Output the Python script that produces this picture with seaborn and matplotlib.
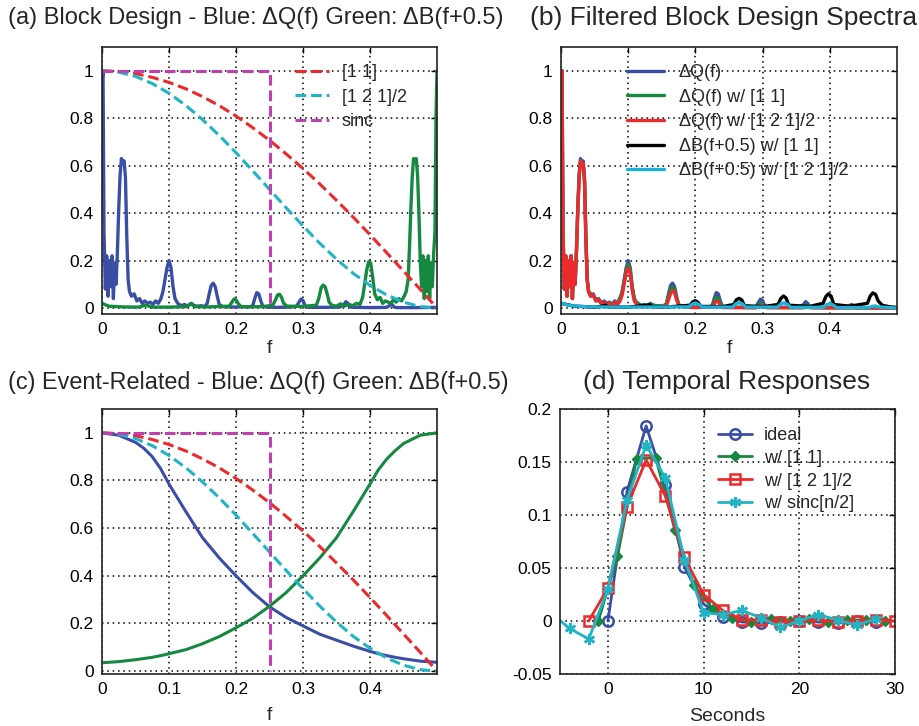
import matplotlib
matplotlib.use("Agg")
import matplotlib.pyplot as plt
import seaborn as sns

# ---- filter responses (shared by panels a and c) ----
filt_f = [0.0, 0.025, 0.05, 0.075, 0.1, 0.125, 0.15, 0.175, 0.2, 0.225, 0.25,
          0.275, 0.3, 0.325, 0.35, 0.375, 0.4, 0.425, 0.45, 0.475, 0.5]
h11 = [1.0, 0.997, 0.988, 0.972, 0.951, 0.924, 0.891, 0.853, 0.809, 0.760, 0.707,
       0.649, 0.588, 0.523, 0.454, 0.383, 0.309, 0.233, 0.156, 0.079, 0.0]
h121 = [1.0, 0.994, 0.976, 0.946, 0.905, 0.854, 0.794, 0.727, 0.655, 0.578, 0.5,
        0.422, 0.346, 0.273, 0.206, 0.146, 0.096, 0.055, 0.025, 0.006, 0.0]
sinc_f = [0.0, 0.25, 0.25]
sinc_v = [1.0, 1.0, 0.0]

# ---- (a) block design spectra ----
dq_f = [0.000, 0.0015, 0.003, 0.005, 0.007, 0.009, 0.011, 0.013, 0.015, 0.017,
        0.019, 0.021, 0.023, 0.025, 0.027, 0.029, 0.031, 0.033, 0.035, 0.037,
        0.039, 0.041, 0.044, 0.048, 0.052, 0.056, 0.060, 0.064, 0.068, 0.072,
        0.076, 0.080, 0.084, 0.088, 0.091, 0.094, 0.097, 0.100, 0.103, 0.106,
        0.109, 0.113, 0.118, 0.123, 0.128, 0.133, 0.138, 0.143, 0.148, 0.153,
        0.157, 0.160, 0.163, 0.166, 0.169, 0.172, 0.175, 0.180, 0.190, 0.200,
        0.210, 0.220, 0.225, 0.228, 0.231, 0.234, 0.237, 0.240, 0.245, 0.260,
        0.280, 0.290, 0.294, 0.297, 0.300, 0.303, 0.306, 0.310, 0.330, 0.355,
        0.361, 0.364, 0.367, 0.370, 0.373, 0.380, 0.400, 0.425, 0.430, 0.433,
        0.436, 0.440, 0.470, 0.500]
dq_v = [0.95, 1.00, 0.32, 0.08, 0.22, 0.05, 0.20, 0.09, 0.22, 0.04,
        0.19, 0.10, 0.24, 0.42, 0.56, 0.63, 0.61, 0.62, 0.55, 0.30,
        0.12, 0.07, 0.05, 0.06, 0.03, 0.04, 0.02, 0.03, 0.02, 0.025,
        0.015, 0.03, 0.02, 0.04, 0.07, 0.12, 0.17, 0.20, 0.17, 0.09,
        0.04, 0.02, 0.01, 0.015, 0.008, 0.02, 0.01, 0.008, 0.01, 0.006,
        0.02, 0.06, 0.095, 0.105, 0.09, 0.05, 0.015, 0.006, 0.005, 0.004,
        0.006, 0.005, 0.01, 0.04, 0.065, 0.06, 0.03, 0.008, 0.004, 0.003,
        0.004, 0.006, 0.025, 0.038, 0.032, 0.01, 0.004, 0.003, 0.003, 0.004,
        0.015, 0.027, 0.02, 0.006, 0.003, 0.003, 0.002, 0.003, 0.012, 0.015,
        0.004, 0.002, 0.002, 0.003]

db_f = [0.000, 0.010, 0.030, 0.055, 0.062, 0.066, 0.070, 0.075, 0.100, 0.126,
        0.130, 0.134, 0.138, 0.160, 0.190, 0.194, 0.197, 0.200, 0.203, 0.207,
        0.215, 0.240, 0.255, 0.259, 0.262, 0.265, 0.268, 0.271, 0.276, 0.300,
        0.320, 0.324, 0.327, 0.330, 0.333, 0.336, 0.339, 0.343, 0.350, 0.356,
        0.362, 0.368, 0.374, 0.380, 0.385, 0.389, 0.392, 0.395, 0.398, 0.401,
        0.404, 0.407, 0.411, 0.415, 0.419, 0.423, 0.427, 0.431, 0.435, 0.439,
        0.443, 0.447, 0.451, 0.454, 0.457, 0.459, 0.461, 0.463, 0.465, 0.467,
        0.469, 0.471, 0.473, 0.475, 0.477, 0.479, 0.481, 0.483, 0.485, 0.487,
        0.489, 0.491, 0.493, 0.495, 0.497, 0.4985, 0.500]
db_v = [0.02, 0.008, 0.005, 0.004, 0.010, 0.013, 0.008, 0.004, 0.004, 0.006,
        0.014, 0.016, 0.006, 0.005, 0.008, 0.025, 0.038, 0.035, 0.02, 0.007,
        0.005, 0.006, 0.012, 0.035, 0.055, 0.058, 0.045, 0.02, 0.008, 0.007,
        0.012, 0.045, 0.085, 0.097, 0.09, 0.06, 0.025, 0.012, 0.008, 0.018,
        0.008, 0.016, 0.01, 0.02, 0.015, 0.045, 0.10, 0.16, 0.195, 0.19,
        0.13, 0.06, 0.035, 0.045, 0.02, 0.03, 0.025, 0.02, 0.035, 0.025,
        0.04, 0.03, 0.05, 0.07, 0.12, 0.26, 0.42, 0.55, 0.63, 0.62,
        0.63, 0.56, 0.40, 0.20, 0.09, 0.22, 0.04, 0.20, 0.07, 0.22,
        0.04, 0.19, 0.09, 0.23, 0.32, 0.80, 1.00]

# ---- (b) filtered spectra ----
q11_f = [0.000, 0.0015, 0.003, 0.005, 0.007, 0.009, 0.011, 0.013, 0.015, 0.017,
         0.019, 0.021, 0.023, 0.025, 0.027, 0.029, 0.031, 0.033, 0.035, 0.037,
         0.039, 0.041, 0.048, 0.060, 0.072, 0.084, 0.091, 0.094, 0.097, 0.100,
         0.103, 0.106, 0.110, 0.120, 0.133, 0.150, 0.157, 0.160, 0.163, 0.166,
         0.169, 0.172, 0.176, 0.200, 0.225, 0.228, 0.231, 0.234, 0.237, 0.241,
         0.290, 0.294, 0.297, 0.300, 0.303, 0.307, 0.358, 0.362, 0.366, 0.370,
         0.375, 0.430, 0.433, 0.437, 0.500]
q11_v = [0.95, 1.00, 0.32, 0.08, 0.22, 0.05, 0.20, 0.09, 0.22, 0.04,
         0.19, 0.10, 0.24, 0.42, 0.56, 0.62, 0.60, 0.61, 0.54, 0.30,
         0.12, 0.07, 0.05, 0.02, 0.02, 0.02, 0.065, 0.11, 0.16, 0.185,
         0.16, 0.085, 0.03, 0.01, 0.015, 0.006, 0.018, 0.05, 0.08, 0.09,
         0.075, 0.04, 0.01, 0.003, 0.007, 0.028, 0.046, 0.042, 0.02, 0.004,
         0.002, 0.013, 0.022, 0.018, 0.005, 0.002, 0.002, 0.008, 0.013, 0.008,
         0.002, 0.001, 0.004, 0.001, 0.0]

q121_f = [0.000, 0.0015, 0.003, 0.005, 0.007, 0.009, 0.011, 0.013, 0.015, 0.017,
          0.019, 0.021, 0.023, 0.025, 0.027, 0.029, 0.031, 0.033, 0.035, 0.037,
          0.039, 0.041, 0.044, 0.048, 0.052, 0.056, 0.060, 0.064, 0.068, 0.072,
          0.076, 0.080, 0.084, 0.088, 0.091, 0.094, 0.097, 0.100, 0.103, 0.106,
          0.109, 0.113, 0.118, 0.123, 0.128, 0.133, 0.138, 0.143, 0.150, 0.157,
          0.160, 0.163, 0.166, 0.169, 0.172, 0.176, 0.200, 0.225, 0.228, 0.231,
          0.234, 0.237, 0.241, 0.290, 0.295, 0.300, 0.305, 0.360, 0.366, 0.372,
          0.500]
q121_v = [0.95, 1.00, 0.32, 0.08, 0.22, 0.05, 0.20, 0.09, 0.22, 0.04,
          0.19, 0.10, 0.24, 0.41, 0.55, 0.62, 0.60, 0.61, 0.53, 0.29,
          0.12, 0.07, 0.05, 0.055, 0.03, 0.035, 0.02, 0.025, 0.015, 0.02,
          0.012, 0.025, 0.015, 0.03, 0.055, 0.10, 0.15, 0.17, 0.145, 0.075,
          0.03, 0.015, 0.007, 0.01, 0.005, 0.012, 0.006, 0.004, 0.003, 0.012,
          0.035, 0.06, 0.075, 0.065, 0.035, 0.008, 0.002, 0.004, 0.016, 0.03,
          0.027, 0.012, 0.002, 0.001, 0.008, 0.013, 0.002, 0.001, 0.004, 0.001,
          0.0]

b11_f = [0.000, 0.020, 0.050, 0.062, 0.066, 0.070, 0.100, 0.128, 0.132, 0.136,
         0.160, 0.192, 0.196, 0.200, 0.204, 0.208, 0.240, 0.257, 0.261, 0.265,
         0.269, 0.273, 0.300, 0.323, 0.327, 0.331, 0.335, 0.339, 0.370, 0.390,
         0.394, 0.398, 0.402, 0.406, 0.430, 0.456, 0.460, 0.464, 0.468, 0.472,
         0.478, 0.490, 0.500]
b11_v = [0.02, 0.008, 0.004, 0.008, 0.012, 0.005, 0.004, 0.012, 0.014, 0.006,
         0.005, 0.012, 0.026, 0.031, 0.024, 0.007, 0.006, 0.015, 0.035, 0.041,
         0.034, 0.01, 0.006, 0.015, 0.04, 0.051, 0.042, 0.012, 0.007, 0.02,
         0.048, 0.06, 0.05, 0.015, 0.008, 0.02, 0.05, 0.064, 0.058, 0.03,
         0.012, 0.005, 0.002]

b121_f = [0.000, 0.015, 0.040, 0.100, 0.190, 0.195, 0.200, 0.205, 0.210, 0.255,
          0.260, 0.265, 0.270, 0.275, 0.322, 0.327, 0.332, 0.337, 0.342, 0.390,
          0.395, 0.400, 0.405, 0.410, 0.458, 0.463, 0.467, 0.472, 0.500]
b121_v = [0.02, 0.01, 0.005, 0.004, 0.005, 0.016, 0.022, 0.015, 0.004, 0.004,
          0.018, 0.023, 0.017, 0.004, 0.004, 0.017, 0.022, 0.016, 0.003, 0.003,
          0.014, 0.018, 0.013, 0.002, 0.002, 0.007, 0.009, 0.005, 0.0]

# ---- (c) event-related spectra ----
ev_f = [0.0, 0.025, 0.05, 0.0625, 0.075, 0.0875, 0.1, 0.125, 0.15, 0.175, 0.2,
        0.225, 0.25, 0.275, 0.3, 0.325, 0.35, 0.375, 0.4, 0.4125, 0.425, 0.4375,
        0.45, 0.475, 0.5]
evq_v = [1.0, 0.99, 0.96, 0.935, 0.90, 0.85, 0.785, 0.67, 0.56, 0.475, 0.40,
         0.33, 0.27, 0.225, 0.19, 0.155, 0.13, 0.105, 0.083, 0.073, 0.065, 0.058,
         0.052, 0.042, 0.037]
evb_v = [0.035, 0.04, 0.048, 0.053, 0.058, 0.065, 0.073, 0.09, 0.115, 0.145, 0.182,
         0.222, 0.272, 0.33, 0.40, 0.475, 0.56, 0.67, 0.785, 0.845, 0.89, 0.925,
         0.955, 0.99, 1.0]

# ---- (d) temporal responses ----
ideal_t = [0, 2, 4, 6, 8, 10, 12, 14, 16, 18, 20, 22, 24, 26, 28]
ideal_v = [0.0, 0.122, 0.184, 0.128, 0.051, 0.016, 0.004, -0.001, -0.002, -0.001,
           0.0, -0.001, -0.002, 0.0, -0.001]
w11_t = [-1, 1, 3, 5, 7, 9, 11, 13, 15, 17, 19, 21, 23, 25, 27, 29]
w11_v = [0.0, 0.061, 0.153, 0.154, 0.086, 0.034, 0.011, 0.003, -0.001, 0.002,
         0.0, 0.002, -0.001, 0.001, 0.001, 0.0]
w121_t = [-2, 0, 2, 4, 6, 8, 10, 12, 14, 16, 18, 20, 22, 24, 26, 28, 30]
w121_v = [0.0, 0.031, 0.108, 0.152, 0.118, 0.060, 0.025, 0.010, 0.001, 0.001,
          -0.001, 0.0, 0.001, -0.001, 0.0, 0.001, 0.0]
wsinc_t = [-6, -4, -2, 0, 2, 4, 6, 8, 10, 12, 14, 16, 18, 20, 22, 24, 26, 28]
wsinc_v = [0.008, -0.007, -0.017, 0.030, 0.114, 0.166, 0.135, 0.058, 0.008, 0.006,
           0.010, 0.003, -0.006, 0.0, 0.006, 0.001, -0.004, 0.002]

BLUE = "#3b4ea6"
GREEN = "#15893f"
RED = "#ec2a2c"
CYAN = "#20b4c4"
CYAN2 = "#1ab2d8"
MAGENTA = "#c040b0"

sns.set_theme(style="white")
plt.rcParams["font.family"] = ["Liberation Sans", "DejaVu Sans"]

W, H = 919, 726
fig = plt.figure(figsize=(W / 100, H / 100), dpi=100)


def add_ax(left, top, right, bottom):
    return fig.add_axes([left / W, 1 - bottom / H, (right - left) / W, (bottom - top) / H])


def line(ax, x, y, color, lw=2.2, ls="-", label=None, **kw):
    sns.lineplot(x=x, y=y, ax=ax, color=color, linewidth=lw, linestyle=ls,
                 sort=False, estimator=None, label=label, **kw)


def style(ax):
    ax.grid(True, color="black", linestyle=(0, (1, 2.5)), linewidth=1.1)
    ax.tick_params(direction="in", top=True, right=True, length=4, width=1,
                   labelsize=12.5, colors="black", pad=6)
    for s in ax.spines.values():
        s.set_color("#222222")
        s.set_linewidth(1.2)


def legend(ax, x, y, hl, tp, sp=0.42):
    h, l = ax.get_legend_handles_labels()
    ax.legend(h, l, frameon=False, loc="upper left", bbox_to_anchor=(x, y),
              fontsize=13, handlelength=hl, handletextpad=tp, labelspacing=sp,
              borderaxespad=0, borderpad=0)


dash = (0, (3.5, 1.6))
freq_ticks = [0, 0.1, 0.2, 0.3, 0.4]
freq_labels = ["0", "0.1", "0.2", "0.3", "0.4"]
amp_ticks = [0, 0.2, 0.4, 0.6, 0.8, 1.0]
amp_labels = ["0", "0.2", "0.4", "0.6", "0.8", "1"]

# (a)
ax = add_ax(102, 47, 437, 314)
line(ax, dq_f, dq_v, BLUE, lw=2.4)
line(ax, db_f, db_v, GREEN, lw=2.4)
line(ax, filt_f, h11, RED, ls=dash, label="[1 1]")
line(ax, filt_f, h121, CYAN, ls=dash, label="[1 2 1]/2")
line(ax, sinc_f, sinc_v, MAGENTA, ls=dash, label="sinc")
legend(ax, 0.575, 0.936, 1.9, 0.7)

# (b)
bx = add_ax(561, 47, 897, 314)
line(bx, dq_f, dq_v, BLUE, lw=2.4, label="ΔQ(f)")
line(bx, q11_f, q11_v, GREEN, lw=2.4, label="ΔQ(f) w/ [1 1]")
line(bx, q121_f, q121_v, RED, lw=2.4, label="ΔQ(f) w/ [1 2 1]/2")
line(bx, b11_f, b11_v, "black", lw=2.4, label="ΔB(f+0.5) w/ [1 1]")
line(bx, b121_f, b121_v, CYAN2, lw=2.4, label="ΔB(f+0.5) w/ [1 2 1]/2")
legend(bx, 0.195, 0.936, 2.1, 0.8)

# (c)
cx = add_ax(102, 409, 437, 674)
line(cx, ev_f, evq_v, BLUE)
line(cx, ev_f, evb_v, GREEN)
line(cx, filt_f, h11, RED, ls=dash)
line(cx, filt_f, h121, CYAN, ls=dash)
line(cx, sinc_f, sinc_v, MAGENTA, ls=dash)
if cx.get_legend() is not None:
    cx.get_legend().remove()

for a, ylo, lp in ((ax, -0.025, 2), (bx, -0.025, 2), (cx, -0.012, 7)):
    a.set_xlim(0, 0.5)
    a.set_ylim(ylo, 1.1)
    a.set_xticks(freq_ticks)
    a.set_xticklabels(freq_labels)
    a.set_yticks(amp_ticks)
    a.set_yticklabels(amp_labels)
    a.set_xlabel("f", fontsize=14, labelpad=lp)
    a.set_ylabel("")
    style(a)

# (d)
dx = add_ax(560, 409, 895, 674)
line(dx, ideal_t, ideal_v, BLUE, lw=2.0, label="ideal", marker="o",
     markersize=7.5, markerfacecolor="none", markeredgecolor=BLUE, markeredgewidth=1.8)
line(dx, w11_t, w11_v, GREEN, lw=2.0, label="w/ [1 1]", marker="D",
     markersize=5, markerfacecolor=GREEN, markeredgecolor=GREEN, markeredgewidth=1)
line(dx, w121_t, w121_v, RED, lw=2.0, label="w/ [1 2 1]/2", marker="s",
     markersize=7.5, markerfacecolor="none", markeredgecolor=RED, markeredgewidth=1.8)
line(dx, wsinc_t, wsinc_v, CYAN, lw=2.0, label="w/ sinc[n/2]", marker=(6, 2, 0),
     markersize=8, markeredgecolor=CYAN, markeredgewidth=1.8)
legend(dx, 0.472, 0.932, 1.9, 0.65, sp=0.32)
dx.set_xlim(-5, 30)
dx.set_ylim(-0.05, 0.2)
dx.set_xticks([0, 10, 20, 30])
dx.set_xticklabels(["0", "10", "20", "30"])
dx.set_yticks([-0.05, 0, 0.05, 0.1, 0.15, 0.2])
dx.set_yticklabels(["-0.05", "0", "0.05", "0.1", "0.15", "0.2"])
dx.set_xlabel("Seconds", fontsize=14, labelpad=8)
dx.set_ylabel("")
style(dx)

fig.text(8 / W, 1 - 18 / H, "(a) Block Design - Blue: ΔQ(f) Green: ΔB(f+0.5)",
         fontsize=17, ha="left", va="center")
fig.text(530 / W, 1 - 18 / H, "(b) Filtered Block Design Spectra",
         fontsize=19, ha="left", va="center")
fig.text(8 / W, 1 - 382 / H, "(c) Event-Related - Blue: ΔQ(f) Green: ΔB(f+0.5)",
         fontsize=16.8, ha="left", va="center")
fig.text(583 / W, 1 - 382 / H, "(d) Temporal Responses",
         fontsize=19, ha="left", va="center")

fig.savefig("out.png", dpi=100)
